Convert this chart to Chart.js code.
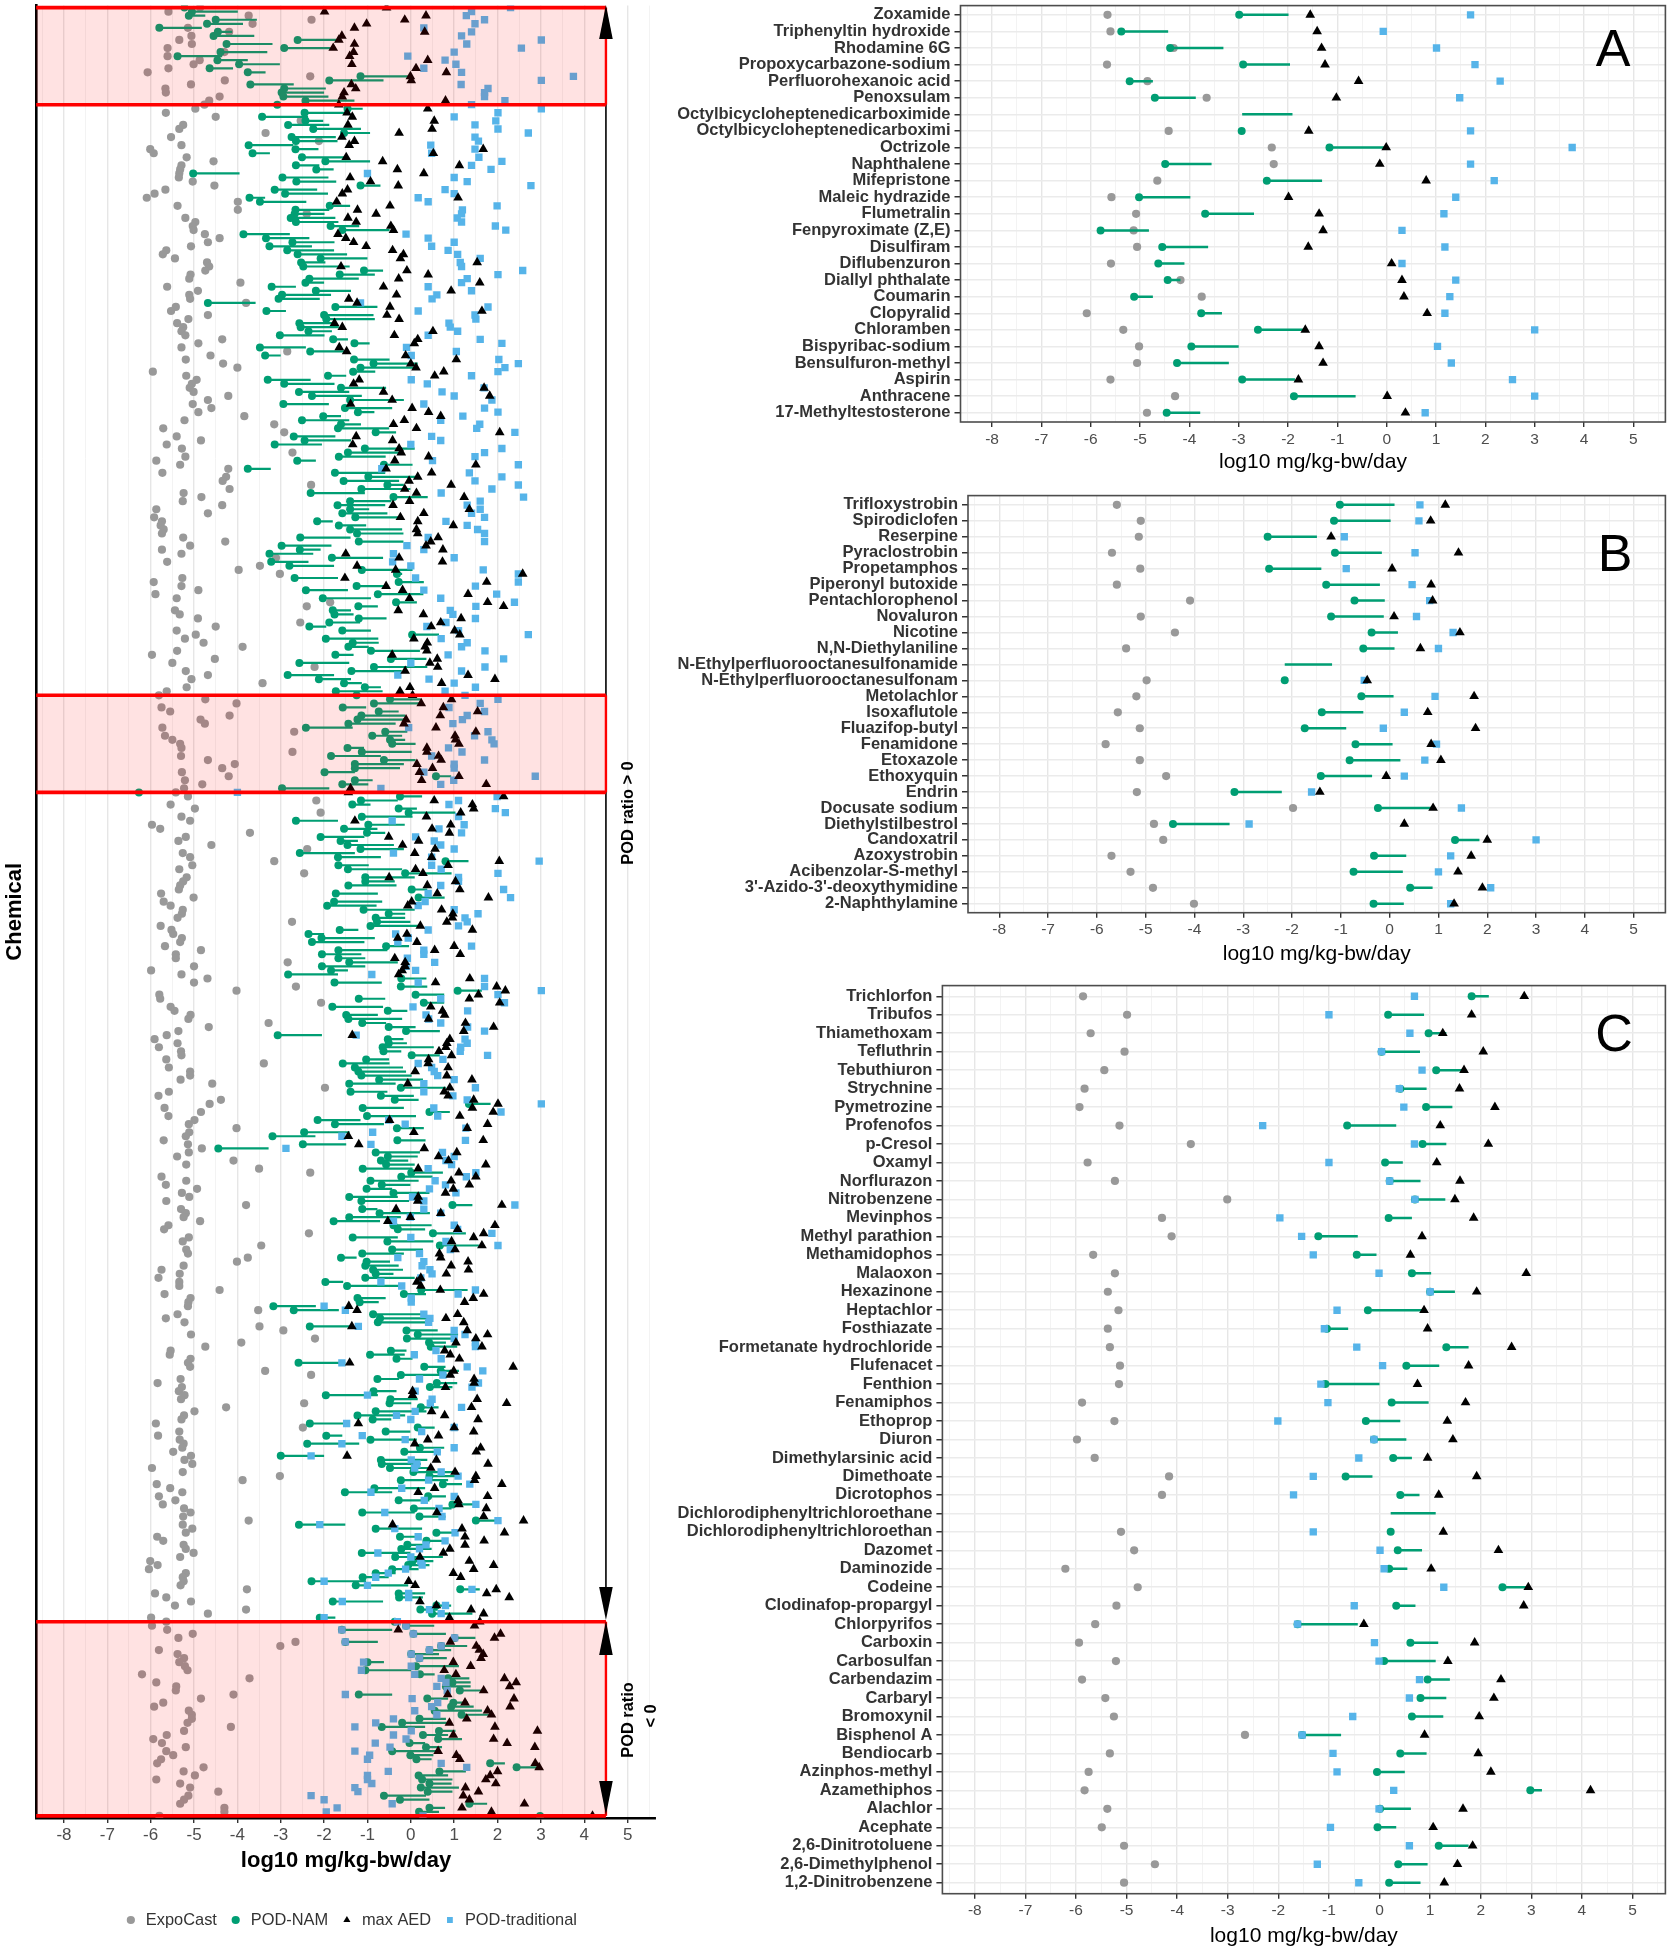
<!DOCTYPE html>
<html>
<head>
<meta charset="utf-8">
<title>POD ratio chart</title>
<script src="https://cdn.jsdelivr.net/npm/chart.js@4"></script>
<style>
  body { margin: 0; background: #fff; width: 1671px; height: 1950px; position: relative; overflow: hidden; }
  canvas { position: absolute; }
</style>
</head>
<body>
<canvas id="chartAll" width="701" height="1950" style="left:0;top:0"></canvas>
<canvas id="chartA" width="1011" height="490" style="left:660px;top:0"></canvas>
<canvas id="chartB" width="1011" height="490" style="left:660px;top:490px"></canvas>
<canvas id="chartC" width="1011" height="970" style="left:660px;top:980px"></canvas>
<script>
// x axis, same on all four panels
const xTicks = [-8.5,-8,-7.5,-7,-6.5,-6,-5.5,-5,-4.5,-4,-3.5,-3,-2.5,-2,-1.5,-1,-0.5,0,0.5,1,1.5,2,2.5,3,3.5,4,4.5,5,5.5];
const legendLabels = ['ExpoCast', 'POD-NAM', 'max AED', 'POD-traditional'];
const axisTitle = 'log10 mg/kg-bw/day';

// left panel, one entry per chemical, top row first
const expoCast = [
-4.86,-5.59,-3.74,-2.29,-3.65,-5.14,-4.19,-5.06,-5.34,-5.05,
-5.61,-4.30,-5.61,-4.87,-5.01,-5.59,-6.07,-2.32,-4.29,-5.07,
-5.66,-5.65,-4.41,-4.65,-4.76,-4.97,-5.65,-4.50,-2.54,-5.25,
-5.34,-3.35,-5.53,-2.12,-5.29,-6.01,-5.93,-5.17,-4.55,-5.29,
-5.32,-5.34,-5.35,-5.03,-4.53,-5.66,-5.91,-6.09,-3.99,-5.38,
-3.99,-2.40,-5.20,-4.97,-5.03,-5.01,-4.75,-4.41,-4.68,-5.07,
-5.64,-5.72,-5.44,-4.70,-4.65,-4.74,-5.08,-5.11,-3.93,-5.62,
-4.91,-5.11,-5.09,-3.80,-5.42,-5.53,-4.68,-5.13,-5.39,-5.25,
-5.29,-5.20,-4.35,-4.90,-5.29,-2.85,-4.62,-5.19,-4.33,-4.00,
-5.95,-5.18,-4.94,-5.05,-5.10,-5.01,-4.21,-4.68,-5.03,-4.60,
-4.90,-3.84,-5.22,-3.15,-5.71,-2.92,-5.40,-4.84,-5.63,-5.28,
-2.73,-5.20,-5.87,-5.32,-4.21,-5.73,-4.26,-4.34,-2.30,-4.18,
-5.24,-4.83,-5.26,
-4.35,-5.87,-4.68,-5.92,-5.74,-5.77,-5.70,-5.74,-5.25,-4.28,
-5.09,-5.74,-5.29,-3.11,-5.62,-3.48,-3.97,-3.02,-5.27,-5.93,
-5.29,-4.90,-5.89,-5.40,-1.86,-2.40,-5.44,-5.33,-4.91,-2.55,
-4.50,-5.40,-4.96,-5.21,-4.78,-3.88,-5.39,-5.97,-4.52,-5.50,
-2.22,-5.19,-4.68,-5.06,-3.42,-5.17,-5.63,-5.81,-4.74,-4.02,
-5.75,-5.55,-4.18,-4.85,-4.75,-5.73,-2.69,-5.67,-5.50,-5.32,
-5.29,-2.73,-5.30,-4.68,-4.06,-4.35,-5.28,-4.20,-5.21,-4.81,
-5.23,-5.42,-5.14,-2.18,-5.54,-4.98,-2.08,-5.29,-5.09,-5.97,
-5.78,-3.71,-5.19,-5.36,-4.60,-2.39,-5.26,-5.09,-3.15,-5.04,
-5.34,-2.46,-5.17,-5.25,-5.32,-5.35,-5.76,-5.01,-5.70,-5.54,
-5.26,-5.28,-5.38,-2.74,-5.77,-5.52,-5.48,-5.28,-5.32,-5.67,
-4.84,-5.42,-5.42,-2.84,-5.00,-5.99,-5.29,-4.69,-5.00,-2.65,
-4.02,-5.80,-5.78,
-2.07,-5.54,-5.45,-5.08,-5.13,-3.28,-4.66,-5.36,-5.63,-5.91,
-5.38,-5.81,-5.30,-5.29,-5.64,-3.39,-5.58,-5.09,-5.09,-5.31,
-4.58,-1.98,-5.58,-5.82,-4.38,-4.64,-5.68,-4.84,-5.59,-4.99,
-5.12,-4.02,-5.11,-5.19,-5.70,-5.14,-4.82,-5.12,-5.39,-4.09,
-5.18,-3.50,-2.32,-5.75,-5.18,-5.65,-4.93,-5.28,-5.11,-5.64,
-3.80,-5.30,-5.19,-5.24,-4.86,-5.59,-5.69,-2.35,-5.12,-5.26,
-3.45,-5.18,-5.14,-3.76,-4.01,-5.24,-5.75,-5.33,-5.82,-5.34,
-5.34,-4.41,-5.68,-5.08,-5.13,-5.14,-3.52,-5.38,-5.65,-5.22,
-3.49,-2.94,-5.07,-2.21,-3.91,-4.74,-5.54,-5.56,-5.08,-5.14,
-5.09,-3.36,-2.30,-5.31,-5.84,-5.28,-5.35,-5.22,-5.30,-2.46,
-4.26,-4.99,-5.23,-5.29,-5.88,-2.49,-5.34,-5.83,-5.33,-5.24,
-5.27,-5.48,-5.07,-5.22,-5.04,-5.97,-5.26,-3.02,-3.88,-5.86,
-5.55,-5.27,-5.81,-5.43,
-5.72,-5.23,-5.08,-5.25,-3.74,-5.26,-5.04,-5.19,-5.85,-5.71,
-5.24,-5.19,-5.01,-5.32,-6.01,-5.84,-6.04,-5.19,-5.26,-5.24,
-5.31,-3.78,-5.90,-5.64,-5.07,-5.44,-3.80,-4.68,-5.99,-5.64,
-5.97,-5.62,-5.03,-5.36,-2.66,-3.01,-5.81,-5.38,-5.23,-5.34,
-5.21,-5.15,-6.20,-3.72,-5.87,-5.41,-5.42,-4.09,-4.84,-5.71,
-5.92,-5.12,-5.05,-5.05,-5.15,-4.15,-5.23,-5.63,-5.94,-5.74,
-5.19,-5.64,-5.48,-5.76,-5.85,-4.78,-5.24,-4.98,-5.87,-5.32,
-5.09,-4.44,-5.13,-5.23,-5.32,-4.30,-4.30,-5.80
];
const podNam = [
-5.22,-5.05,-5.12,-4.50,-4.70,-5.80,-4.45,-4.55,-2.61,-4.25,
-2.92,-4.39,-5.38,-4.46,-3.96,-4.64,-3.76,-1.16,-1.88,-3.70,
-2.92,-2.98,-2.94,-2.43,-3.08,-1.46,-2.45,-3.43,-2.43,-2.83,
-2.25,-1.54,-2.75,-2.65,-3.74,-2.66,-3.65,-2.51,-1.97,-2.65,
-2.18,-5.02,-2.96,-2.64,-1.16,-3.14,-2.90,-3.72,-3.48,-1.87,
-2.66,-2.68,-2.77,-2.65,-1.85,-1.58,-3.86,-3.34,-2.73,-3.26,
-2.85,-2.61,-2.08,-2.53,-2.48,-1.08,-1.64,-2.34,-2.43,-3.21,
-2.19,-2.97,-3.05,-4.68,-1.74,-3.33,-2.00,-1.95,-2.57,-2.54,
-2.36,-3.02,-1.79,-1.30,-3.48,-2.32,-3.36,-1.31,-0.86,-1.16,
-1.33,-1.91,-3.30,-2.92,-1.61,-2.58,-2.28,-1.40,-2.94,-1.52,
-1.22,-2.02,-2.51,-1.61,-1.68,-0.81,-2.70,-2.45,-3.14,-1.06,
-1.45,-1.66,-2.62,-0.62,-3.76,-1.75,-0.98,-1.55,-0.54,-1.14,
-2.31,-0.40,-1.40,
-1.69,-1.40,-1.58,-1.28,-2.16,-1.66,-1.40,-1.24,-2.55,-1.20,
-2.98,-2.56,-3.26,-1.82,-3.22,-2.80,-1.13,-0.32,-2.68,-0.28,
-1.25,-2.42,-0.76,-2.03,-0.34,-1.21,-1.80,-1.76,-1.20,-1.88,
-2.34,-1.58,0.03,-1.96,-1.34,-1.44,-0.92,-1.74,-0.46,-2.57,
-0.85,-1.37,-2.84,-2.12,-1.54,-1.06,-1.73,-1.25,-0.48,-0.85,
-1.57,-0.74,-1.14,-1.23,-1.44,-2.42,-0.59,-0.89,-0.48,-0.43,
-1.46,-1.13,-1.84,-0.62,-1.29,-1.29,-1.99,0.58,-1.29,-1.58,
-2.97,-6.27,-0.25,-1.15,-1.35,-0.28,-0.05,-1.13,-2.65,-0.98,
-1.54,-1.01,-2.08,-1.62,-1.46,-1.16,-2.56,-1.68,0.80,-1.67,
-1.45,-0.13,-1.05,-1.05,-1.44,0.02,-1.73,0.18,-1.77,-1.93,
-1.09,-0.51,-0.81,-0.78,-0.93,-1.64,-2.36,-2.06,-2.28,-0.57,
-1.67,-2.05,-1.67,-1.42,-2.05,-1.84,-2.83,-0.22,-1.76,-0.23,
1.08,0.11,-1.20,
0.30,-1.81,-0.53,-1.49,-1.44,-1.12,-0.51,-0.11,-3.07,-0.53,
-0.51,-0.65,-0.63,0.02,-1.03,-1.57,-1.29,-1.21,-1.14,-0.73,
-1.42,-0.23,-1.39,-0.69,-0.37,1.34,-1.11,0.43,-1.01,-2.15,
-1.75,-0.32,-2.46,-3.19,-0.31,-2.49,-4.44,-0.81,-0.53,-0.69,
-0.57,-1.11,0.01,-0.22,-0.93,-0.67,-1.02,-0.40,-1.42,-1.14,
0.96,-1.12,-0.72,-1.42,-1.78,-0.40,-0.30,0.51,-1.34,-0.54,
0.67,-0.43,-1.12,-1.61,-1.02,-1.05,-0.87,-0.81,-1.05,-1.97,
-1.47,0.24,-0.16,-1.23,-1.18,-3.17,-2.70,-0.87,-0.71,-0.76,
-2.33,-0.10,0.16,-0.09,0.42,0.46,-0.46,-0.94,-0.33,-2.59,
0.31,0.69,-0.23,-0.77,0.60,0.44,-0.86,-1.96,-0.47,-0.49,
0.23,-0.81,-1.23,-0.88,-2.33,0.16,-0.58,-1.95,-0.93,-2.39,
0.21,-0.15,-3.00,-0.69,-0.67,-0.48,0.06,0.43,-0.23,0.74,
-0.84,-1.52,0.40,-0.28,
0.96,0.07,-1.12,0.20,1.50,-2.58,-0.81,0.59,-0.25,0.36,
-0.08,-0.22,-1.13,-0.36,0.04,-0.06,-0.43,-0.81,-1.11,-2.29,
-1.27,1.14,-0.28,-0.27,-1.80,0.59,0.22,0.49,-2.10,-0.37,
-0.11,-1.59,0.06,1.01,-1.51,0.70,0.43,0.01,0.20,-1.00,
0.12,-1.05,0.21,0.86,0.96,0.81,1.13,-1.20,0.38,0.98,
0.93,0.55,1.17,0.20,-0.20,-0.67,0.65,0.28,0.63,-0.03,
0.35,-0.43,-0.01,0.13,1.83,2.44,0.66,0.18,0.26,0.43,
0.23,0.39,-0.62,-0.25,1.35,0.43,0.19,2.98
];
const podNamHi = [
-4.33,-3.99,-4.74,-3.55,-3.87,-4.82,-4.12,-3.61,-1.63,-3.19,
-1.85,-3.31,-4.35,-3.76,-3.02,-4.10,-3.35,-0.01,-0.63,-2.70,
-1.96,-2.00,-1.90,-1.30,-2.10,-1.11,-1.45,-2.37,-2.02,-1.88,
-1.15,-0.94,-1.73,-1.69,-2.71,-2.13,-3.25,-1.49,-0.94,-2.11,
-1.78,-3.95,-1.90,-1.72,-0.70,-2.16,-1.91,-3.36,-2.41,-1.40,
-1.88,-1.99,-1.74,-1.67,-1.19,-0.49,-2.79,-2.34,-1.76,-2.28,
-1.77,-1.47,-1.00,-1.97,-1.41,-0.64,-0.83,-1.20,-2.00,-2.65,
-1.38,-1.84,-2.10,-3.58,-0.77,-2.88,-0.86,-0.83,-1.71,-1.66,
-1.82,-1.99,-1.45,-0.95,-2.42,-1.46,-3.00,-0.49,0.16,0.14,
-0.82,-1.49,-2.31,-1.76,-0.57,-1.42,-1.13,-0.16,-1.89,-0.43,
-0.84,-1.61,-1.42,-1.15,-0.50,-0.34,-1.74,-1.38,-2.05,0.09,
-0.27,-0.58,-2.19,0.04,-3.23,-0.59,0.14,-0.27,-0.16,-0.01,
-1.06,0.39,-0.45,
-0.59,-0.96,-0.54,-0.20,-1.80,-1.03,-0.20,-0.17,-1.39,-0.17,
-1.83,-2.08,-2.25,-0.64,-2.36,-1.77,0.04,-0.20,-1.68,0.30,
-0.54,-1.45,0.29,-0.92,0.14,-0.76,-1.38,-1.32,-0.56,-1.17,
-1.95,-0.92,0.65,-0.75,-0.74,-0.97,0.21,-1.32,0.36,-1.42,
0.38,-0.21,-1.77,-1.38,-1.13,-0.69,-0.65,-0.01,0.23,0.26,
-1.03,-0.28,-0.13,-0.16,-0.35,-1.34,-0.08,-0.20,-0.13,0.11,
-1.08,0.02,-0.69,0.11,-0.16,-0.25,-1.29,0.93,-0.88,-0.98,
-1.88,-5.20,0.26,-0.30,-0.93,0.14,1.03,0.04,-1.68,-0.14,
-0.77,-0.59,-1.07,-1.22,-0.39,-0.16,-1.29,-0.69,1.33,-0.97,
-0.20,0.94,0.09,-0.37,-0.33,0.38,-0.76,0.78,-0.66,-0.79,
0.09,-0.13,-0.13,-0.01,0.23,-1.21,-2.00,-0.83,-1.07,-0.04,
-0.54,-1.14,-1.05,-0.30,-1.05,-1.45,-1.68,0.36,-0.67,0.38,
1.64,0.77,-0.59,
0.77,-0.64,-0.08,-0.76,-0.20,-0.57,0.11,0.67,-2.05,-0.17,
-0.09,0.53,-0.22,0.67,-0.50,-0.49,-0.18,-0.11,0.02,0.28,
-0.35,0.81,-0.54,0.07,0.18,1.84,-0.16,0.90,0.12,-1.16,
-0.62,0.30,-1.41,-2.20,0.34,-1.49,-3.28,0.21,0.16,-0.06,
0.09,0.04,0.74,0.50,0.18,-0.01,-0.43,0.43,-0.30,-0.04,
1.42,-0.77,0.44,-0.23,-0.71,0.48,0.33,1.27,-0.30,0.52,
1.57,0.28,-0.16,-1.25,-0.48,-0.28,-0.18,-0.40,0.09,-1.56,
-0.25,1.31,0.35,-0.58,-0.74,-2.19,-1.66,0.30,0.38,0.41,
-1.32,0.62,1.09,1.00,0.81,1.07,-0.10,-0.14,0.04,-1.51,
0.80,1.11,0.83,-0.27,1.07,0.96,-0.33,-0.76,0.16,0.01,
0.64,0.36,-0.13,-0.45,-1.46,0.55,-0.01,-1.58,0.14,-1.19,
0.77,0.69,-2.00,0.38,0.23,0.43,1.01,1.15,0.86,1.18,
0.33,-0.43,0.81,0.43,
1.50,0.94,0.09,0.80,2.03,-1.51,0.26,1.06,0.23,0.83,
0.38,0.48,-0.01,0.74,0.52,0.43,0.18,-0.35,-0.51,-1.03,
-0.06,1.59,0.33,0.28,-0.64,0.93,0.62,1.42,-1.74,0.54,
0.54,-0.43,0.81,1.49,-0.76,1.30,0.93,0.65,0.83,-0.62,
1.11,0.01,0.55,1.35,1.38,1.38,1.71,-0.43,0.86,1.32,
1.45,1.64,1.83,0.81,0.86,0.33,1.03,0.86,1.18,0.33,
0.72,0.62,0.52,0.48,2.17,2.95,1.27,0.86,0.96,0.94,
1.11,0.96,0.35,0.43,1.76,0.79,0.65,3.14
];
const maxAed = [
-0.56,-1.99,0.35,-0.14,-1.02,-1.30,0.32,-1.59,-1.66,-1.30,
-1.79,-1.32,-1.41,0.39,-1.36,0.12,0.82,-0.01,0.01,-1.37,
-1.27,-1.54,-1.58,0.80,-1.66,0.39,-1.47,-1.35,0.54,-1.45,
0.49,-0.27,-1.59,-1.30,-1.42,1.67,0.52,-1.49,-0.65,1.12,
-0.31,0.30,-1.40,-0.93,-0.29,-1.46,-1.58,1.09,-1.71,-0.48,
-1.23,-0.80,-1.45,-1.26,-0.46,-0.40,-1.68,-1.50,-1.32,-1.03,
-0.42,-0.17,-0.24,1.53,-1.61,-0.09,0.40,-0.28,1.59,-0.63,
0.93,-0.33,-1.43,-1.24,-0.48,1.64,-0.55,-0.27,-1.76,-1.58,
0.51,-0.38,0.16,0.08,-1.65,-1.48,-0.12,1.05,0.00,0.12,
0.76,0.55,-1.19,-1.32,1.69,-0.63,1.82,-0.43,-1.39,0.03,
0.41,0.69,-0.15,-0.40,0.13,2.05,-1.26,-0.42,-1.34,-0.27,
-0.22,0.41,-0.37,1.50,-0.57,0.48,0.16,-0.04,0.93,-0.14,
0.13,1.23,-0.03,
-0.41,1.35,0.30,-0.24,0.16,0.98,0.13,0.16,0.63,0.46,
0.35,0.74,-1.50,-0.27,0.73,-1.24,-0.35,2.58,-1.52,1.75,
-0.57,-0.19,1.32,-0.03,1.77,2.14,-0.29,0.29,1.16,0.69,
0.47,1.01,1.13,0.07,0.38,0.33,0.37,-0.43,0.61,0.44,
0.62,-0.13,1.32,1.94,0.71,-0.02,-0.25,0.04,0.94,0.24,
0.75,1.54,0.68,-0.11,-0.16,0.58,1.50,1.02,1.03,1.11,
0.37,0.37,0.64,0.70,0.14,0.50,0.20,1.11,0.25,1.74,
-1.39,-1.44,2.14,0.54,1.42,1.45,1.15,0.36,-1.29,0.92,
0.49,0.89,-0.51,0.18,-0.19,0.56,0.09,0.48,2.04,0.86,
0.11,0.28,-0.50,1.03,0.38,1.13,0.61,1.79,0.02,-0.07,
0.71,0.97,0.96,0.83,0.22,1.42,-0.09,-0.30,0.14,1.00,
0.55,1.14,-0.37,-0.13,-0.13,-0.20,-0.28,1.36,0.57,1.98,
2.18,1.56,1.35,
2.05,0.46,0.73,0.78,0.41,1.26,1.91,1.22,-1.35,0.90,
0.83,0.81,0.65,0.94,0.41,0.40,0.86,0.10,0.83,1.41,
-0.07,0.90,0.77,0.86,1.45,2.01,1.42,1.90,1.13,-0.49,
1.77,1.30,0.07,-1.44,1.67,-1.20,0.31,1.06,0.64,0.87,
1.73,0.17,1.11,1.50,0.93,1.35,0.98,0.80,0.17,0.16,
2.10,-0.34,0.69,-0.01,-0.53,1.94,1.08,1.68,1.45,0.94,
1.64,1.02,0.66,0.69,1.32,0.93,1.33,0.82,0.23,0.14,
0.23,0.68,1.68,1.44,1.24,-1.43,-1.24,1.08,0.81,1.22,
-1.36,1.30,1.77,1.50,1.04,1.64,0.78,0.91,1.12,-1.41,
2.36,0.99,0.91,1.46,1.46,0.80,0.04,0.04,1.53,2.21,
1.40,0.48,0.78,1.55,-1.21,1.00,1.45,0.64,0.39,0.09,
1.61,1.51,-1.47,0.59,1.78,0.46,1.02,1.50,1.47,2.10,
0.55,0.17,1.77,1.09,
1.11,1.74,0.60,1.68,2.60,-0.42,1.18,2.16,1.25,1.69,
1.25,0.90,0.75,0.21,1.35,1.91,1.45,0.98,1.15,-0.05,
0.10,1.97,1.75,2.27,0.21,0.59,1.39,1.68,0.89,1.59,
1.47,-0.29,2.07,1.93,0.91,1.51,1.58,1.67,1.62,0.98,
1.38,0.77,1.04,2.16,2.43,2.28,1.68,0.85,2.38,1.25,
2.29,1.77,1.86,1.29,0.89,1.94,2.92,0.98,1.91,2.22,
2.86,0.63,1.05,1.13,2.87,2.96,2.00,1.83,1.73,1.96,
1.26,1.56,1.21,1.35,2.62,1.18,1.86,4.19
];
const podTrad = [
2.30,1.40,1.28,1.70,1.48,0.30,1.40,1.17,3.01,1.29,
2.55,1.00,-0.07,0.79,1.04,0.30,1.17,3.75,3.01,1.16,
1.78,1.70,1.70,2.17,1.40,3.01,2.01,1.00,1.96,1.48,
2.01,2.71,1.48,1.56,0.46,1.48,0.48,1.57,2.10,1.40,
1.85,-1.00,1.00,1.30,2.77,0.79,1.00,0.17,0.40,1.99,
1.19,1.17,1.07,1.17,1.95,2.19,-0.11,0.40,1.00,0.48,
0.86,1.08,1.60,1.14,1.17,2.58,2.01,1.30,1.17,0.40,
1.40,0.60,0.49,-1.16,1.78,0.17,1.48,1.50,0.88,0.91,
1.08,0.40,1.60,2.10,-0.10,1.05,0.01,2.03,2.48,2.17,
2.01,1.40,0.01,0.38,1.69,0.72,1.00,1.87,0.30,1.70,
2.01,1.20,0.69,1.59,1.52,2.40,0.48,0.69,0.00,2.10,
1.70,1.48,0.50,2.48,-0.67,1.35,2.10,1.48,2.48,1.87,
0.70,2.60,1.60,
1.30,1.60,1.40,1.70,0.81,1.30,1.54,1.70,0.40,1.70,
-0.09,0.30,-0.40,1.00,-0.42,0.00,1.67,2.48,0.11,2.48,
1.49,0.30,1.98,0.69,2.39,1.50,0.91,0.97,1.49,0.81,
0.37,1.10,2.71,0.70,1.30,1.17,1.71,0.86,2.14,0.00,
1.71,1.17,-0.30,0.42,1.00,1.49,0.79,1.25,2.01,1.60,
0.88,1.70,1.30,1.19,0.97,-0.05,1.78,1.47,1.87,1.92,
0.87,1.18,0.48,1.70,1.00,1.00,0.30,2.87,0.99,0.69,
-0.69,-4.00,1.99,1.10,0.88,1.95,2.18,1.10,-0.43,1.23,
0.65,1.17,0.11,0.54,0.69,1.00,-0.40,0.48,2.96,0.48,
0.70,2.01,1.10,1.10,0.69,2.14,0.40,2.30,0.33,0.17,
1.00,1.55,1.25,1.30,1.10,0.40,-0.35,-0.06,-0.30,1.40,
0.30,0.30,-0.08,0.55,-0.11,0.11,-0.90,1.70,0.17,1.70,
3.01,2.01,0.69,
2.16,0.05,1.31,0.35,0.41,0.69,1.31,1.70,-1.26,1.25,
1.30,1.15,1.14,1.77,0.74,0.17,0.48,0.54,0.62,1.00,
0.30,1.49,0.30,0.97,1.30,3.01,0.53,2.08,0.62,-0.51,
-0.13,1.27,-0.88,-1.59,1.26,-0.92,-2.88,0.73,1.00,0.81,
0.94,0.40,1.50,1.28,0.56,0.80,0.43,1.04,0.04,0.30,
2.40,0.30,0.69,-0.01,-0.40,1.00,1.08,1.87,0.00,0.81,
2.01,0.91,0.20,-0.30,0.30,0.26,0.44,0.49,0.23,-0.69,
-0.21,1.49,1.09,0.01,0.01,-2.00,-1.51,0.30,0.44,0.41,
-1.21,1.00,1.25,1.00,1.49,1.49,0.58,0.08,0.70,-1.59,
1.30,1.66,0.74,0.20,1.56,1.41,0.10,-1.00,0.49,0.45,
1.17,0.10,-0.33,0.00,-1.48,1.00,0.25,-1.12,-0.13,-1.59,
1.00,0.61,-2.30,0.01,0.14,0.09,0.70,1.09,0.41,1.36,
-0.21,-0.92,1.00,0.31,
1.50,0.65,-0.60,0.72,2.01,-2.10,-0.37,1.02,0.17,0.79,
0.35,0.20,-0.76,0.00,0.23,0.26,-0.12,-0.52,-0.81,-2.00,
-1.00,1.41,-0.05,-0.05,-1.58,0.80,0.43,0.70,-2.00,-0.31,
-0.11,-1.59,0.06,1.01,-1.51,0.70,0.43,0.01,0.20,-1.09,
0.01,-1.14,0.09,0.70,0.81,0.60,0.84,-1.51,0.03,0.62,
0.48,0.09,0.60,-0.40,-0.81,-1.29,0.01,-0.40,-0.11,-0.82,
-0.48,-1.29,-0.95,-1.00,0.70,1.29,-0.52,-1.00,-1.00,-0.90,
-1.29,-1.22,-2.30,-2.00,-0.43,-1.70,-1.95,0.28
];
// boxes highlighted in the left panel, in rows
const highlightRows = [[0, 24], [170, 194], [399, 447]];

// panel A
const aNames = ['Zoxamide','Triphenyltin hydroxide','Rhodamine 6G','Propoxycarbazone-sodium','Perfluorohexanoic acid','Penoxsulam','Octylbicycloheptenedicarboximide','Octylbicycloheptenedicarboximi','Octrizole','Naphthalene','Mifepristone','Maleic hydrazide','Flumetralin','Fenpyroximate (Z,E)','Disulfiram','Diflubenzuron','Diallyl phthalate','Coumarin','Clopyralid','Chloramben','Bispyribac-sodium','Bensulfuron-methyl','Aspirin','Anthracene','17-Methyltestosterone'];
const aExpo = [-5.66,-5.60,-4.32,-5.67,-4.85,-3.65,null,-4.42,-2.33,-2.29,-4.65,-5.58,-5.08,-5.13,-5.06,-5.59,-4.18,-3.75,-6.08,-5.34,-5.02,-5.06,-5.60,-4.29,-4.86];
const aNam = [-2.99,-5.38,-4.39,-2.91,-5.21,-4.70,null,-2.94,-1.16,-4.49,-2.43,-5.02,-3.68,-5.80,-4.55,-4.63,-4.44,-5.12,-3.76,-2.61,-3.96,-4.25,-2.93,-1.88,-4.46];
const aLo = [-2.99,-5.38,-4.39,-2.91,-5.21,-4.70,-2.93,null,-1.16,-4.49,-2.43,-5.02,-3.68,-5.80,-4.55,-4.63,-4.44,-5.12,-3.76,-2.61,-3.96,-4.25,-2.93,-1.88,-4.46];
const aHi = [-1.99,-4.43,-3.31,-1.96,-4.74,-3.87,-1.91,null,-0.03,-3.55,-1.31,-3.98,-2.69,-4.82,-3.62,-4.10,-4.18,-4.74,-3.34,-1.62,-3.00,-3.20,-1.86,-0.63,-3.78];
const aAed = [-1.55,-1.41,-1.32,-1.25,-0.57,-1.02,null,-1.58,-0.01,-0.14,0.80,-1.99,-1.37,-1.29,-1.59,0.10,0.31,0.35,0.82,-1.65,-1.37,-1.29,-1.79,0.01,0.38];
const aTrad = [1.70,-0.07,1.01,1.79,2.30,1.48,null,1.70,3.76,1.70,2.18,1.40,1.16,0.31,1.18,0.31,1.40,1.28,1.18,3.00,1.03,1.31,2.55,3.00,0.78];

// panel B
const bNames = ['Trifloxystrobin','Spirodiclofen','Reserpine','Pyraclostrobin','Propetamphos','Piperonyl butoxide','Pentachlorophenol','Novaluron','Nicotine','N,N-Diethylaniline','N-Ethylperfluorooctanesulfonamide','N-Ethylperfluorooctanesulfonam','Metolachlor','Isoxaflutole','Fluazifop-butyl','Fenamidone','Etoxazole','Ethoxyquin','Endrin','Docusate sodium','Diethylstilbestrol','Candoxatril','Azoxystrobin','Acibenzolar-S-methyl',"3'-Azido-3'-deoxythymidine",'2-Naphthylamine'];
const bExpo = [-5.59,-5.10,-5.14,-5.69,-5.11,-5.59,-4.09,-5.10,-4.40,-5.40,null,-4.98,-5.19,-5.57,-5.12,-5.82,-5.12,-4.58,-5.18,-1.98,-4.83,-4.64,-5.70,-5.31,-4.85,-4.01];
const bNam = [-1.02,-1.14,-2.50,-1.12,-2.47,-1.30,-0.72,-1.20,-0.37,-0.54,null,-2.15,-0.58,-1.39,-1.74,-0.70,-0.82,-1.41,-3.18,-0.24,-4.44,1.34,-0.32,-0.74,0.42,-0.33];
const bLo = [-1.02,-1.14,-2.50,-1.12,-2.47,-1.30,-0.72,-1.20,-0.37,-0.54,-2.15,null,-0.58,-1.39,-1.74,-0.70,-0.82,-1.41,-3.18,-0.24,-4.44,1.34,-0.32,-0.74,0.42,-0.33];
const bHi = [0.10,0.02,-1.49,-0.16,-1.40,-0.20,-0.10,-0.12,0.17,0.10,-1.18,null,0.08,-0.54,-0.89,0.06,0.22,-0.36,-2.21,0.85,-3.28,1.84,0.34,0.27,0.88,0.29];
const bAed = [1.14,0.84,-1.20,1.41,0.05,0.85,0.88,0.09,1.44,0.63,null,-0.46,1.73,0.78,1.76,0.85,1.05,-0.07,-1.43,0.89,0.30,2.00,1.67,1.40,1.90,1.32];
const bTrad = [0.62,0.60,-0.93,0.52,-0.89,0.46,0.82,0.55,1.30,1.00,null,-0.52,0.93,0.30,-0.13,0.96,0.72,0.30,-1.60,1.47,-2.88,3.00,1.25,1.00,2.07,1.25];

// panel C
const cNames = ['Trichlorfon','Tribufos','Thiamethoxam','Tefluthrin','Tebuthiuron','Strychnine','Pymetrozine','Profenofos','p-Cresol','Oxamyl','Norflurazon','Nitrobenzene','Mevinphos','Methyl parathion','Methamidophos','Malaoxon','Hexazinone','Heptachlor','Fosthiazate','Formetanate hydrochloride','Flufenacet','Fenthion','Fenamiphos','Ethoprop','Diuron','Dimethylarsinic acid','Dimethoate','Dicrotophos','Dichlorodiphenyltrichloroethane','Dichlorodiphenyltrichloroethan','Dazomet','Daminozide','Codeine','Clodinafop-propargyl','Chlorpyrifos','Carboxin','Carbosulfan','Carbendazim','Carbaryl','Bromoxynil','Bisphenol A','Bendiocarb','Azinphos-methyl','Azamethiphos','Alachlor','Acephate','2,6-Dinitrotoluene','2,6-Dimethylphenol','1,2-Dinitrobenzene'];
const cExpo = [-5.86,-4.99,-5.71,-5.04,-5.44,-5.83,-5.93,-5.14,-3.73,-5.77,-5.23,-3.01,-4.30,-4.11,-5.66,-5.23,-5.37,-5.16,-5.37,-5.33,-5.13,-5.15,-5.88,-5.24,-5.98,-5.63,-4.16,-4.30,null,-5.11,-4.85,-6.21,-4.78,-5.20,-5.62,-5.94,-5.21,-5.88,-5.42,-5.25,-2.66,-5.33,-5.75,-5.83,-5.38,-5.49,-5.05,-4.44,-5.05];
const cNam = [1.82,0.17,0.97,0.04,1.12,0.41,0.92,-0.64,0.85,0.11,0.20,0.70,0.18,-1.21,-0.45,0.64,1.00,-0.23,-1.04,1.32,0.53,-1.07,0.24,-0.27,-0.11,0.27,-0.67,0.41,null,0.22,0.36,0.19,2.43,0.33,-1.62,0.61,0.09,0.95,0.81,0.64,-1.53,0.41,-0.05,2.98,0.01,-0.04,1.17,0.37,0.19];
const cLo = [1.82,0.17,0.97,0.04,1.12,0.41,0.92,-0.64,0.85,0.11,0.20,0.70,0.18,-1.21,-0.45,0.64,1.00,-0.23,-1.04,1.32,0.53,-1.07,0.24,-0.27,-0.11,0.27,-0.67,0.41,0.22,null,0.36,0.19,2.43,0.33,-1.62,0.61,0.09,0.95,0.81,0.64,-1.53,0.41,-0.05,2.98,0.01,-0.04,1.17,0.37,0.19];
const cHi = [2.16,0.88,1.32,0.80,1.69,0.93,1.44,0.33,1.32,0.46,0.81,1.30,0.64,-0.43,-0.06,1.02,1.49,0.85,-0.62,1.76,1.18,0.00,0.97,0.41,0.53,0.64,-0.14,0.79,1.11,null,0.84,0.55,2.94,0.71,-0.43,1.16,1.11,1.39,1.32,1.26,-0.76,0.93,0.50,3.21,0.62,0.33,1.76,0.95,0.81];
const cAed = [2.86,1.82,1.25,2.05,1.67,1.58,2.28,1.20,2.15,1.13,1.59,1.49,1.86,0.84,0.61,2.90,1.92,0.88,0.95,2.61,1.76,0.75,1.70,1.34,1.45,0.95,1.92,1.17,null,1.26,2.35,1.02,2.94,2.85,-0.31,1.88,1.35,2.40,2.26,1.97,0.89,1.95,2.20,4.17,1.65,1.06,1.84,1.54,1.28];
const cTrad = [0.69,-1.00,0.60,0.04,0.84,0.39,0.48,-2.31,0.69,-1.00,0.20,0.70,-1.97,-1.54,-1.31,-0.01,1.00,-0.84,-1.09,-0.45,0.06,-1.16,-1.02,-2.01,-0.11,-0.41,-1.31,-1.70,null,-1.31,0.01,0.09,1.27,-0.50,-1.62,-0.10,-0.01,0.79,0.59,-0.53,-1.53,-0.92,-0.84,0.28,-0.01,-0.97,0.59,-1.23,-0.41];

Chart.defaults.font.family = "'Liberation Sans', Arial, sans-serif";
Chart.defaults.animation = false;

const GREEN = '#009e73', BLUE = '#56b4e9', GREY = '#999999';

function toPoints(vals) {
    var pts = [];
    vals.forEach(function (v, i) { if (v !== null) pts.push({ x: v, y: i }); });
    return pts;
}

function toSegments(lo, hi) {
    var pts = [];
    lo.forEach(function (v, i) {
        if (v !== null && hi[i] !== null) {
            pts.push({ x: v, y: i }, { x: hi[i], y: i }, { x: null, y: null });
        }
    });
    return pts;
}

// first dataset is drawn on top
function buildDatasets(s) {
    function marks(label, vals, style, color, radius) {
        return { label: label, data: toPoints(vals), pointStyle: style, pointRadius: radius,
            backgroundColor: color, borderColor: color, pointBackgroundColor: color,
            pointBorderWidth: 0, borderWidth: 0, showLine: false };
    }
    return [
        marks('max AED', s.aed, 'triangle', '#000', 5.6),
        marks('POD-traditional', s.trad, 'rect', BLUE, 5.2),
        marks('POD-NAM', s.nam, 'circle', GREEN, 4),
        { label: '', data: toSegments(s.lo, s.hi), showLine: true, spanGaps: false, pointRadius: 0,
            borderColor: GREEN, backgroundColor: GREEN, borderWidth: s.lineWidth },
        marks('ExpoCast', s.expo, 'circle', GREY, 4.1)
    ];
}

function xScale(titleFont, titleBottom, borderColor, borderWidth, height, rightInset, tickSize, tickPad) {
    return {
        type: 'linear', min: -8.64, max: 5.65,
        afterBuildTicks: function (scale) { scale.ticks = xTicks.map(function (v) { return { value: v }; }); },
        afterFit: function (scale) {
            scale.height = height;
            scale.paddingLeft = 0;
            scale.paddingRight = rightInset;
        },
        ticks: {
            autoSkip: false, maxRotation: 0, color: '#4d4d4d', padding: tickPad, font: { size: tickSize },
            callback: function (v) { return Number.isInteger(v) ? String(v) : ''; }
        },
        grid: {
            tickLength: 5,
            color: function (ctx) { return ctx.tick && Number.isInteger(ctx.tick.value) ? '#e6e6e6' : '#f2f2f2'; },
            lineWidth: function (ctx) { return ctx.tick && Number.isInteger(ctx.tick.value) ? 1.4 : 0.9; },
            tickColor: function (ctx) { return ctx.tick && Number.isInteger(ctx.tick.value) ? '#333' : 'rgba(0,0,0,0)'; }
        },
        border: { display: borderWidth > 0, color: borderColor, width: borderWidth },
        title: { display: true, text: axisTitle, color: '#000', font: titleFont, padding: { top: 0, bottom: titleBottom } }
    };
}

// right hand panels, rows and axis positions in canvas pixels
function smallPanel(id, names, s, box, letter) {
    var step = (box.lastRow - box.firstRow) / (names.length - 1);
    new Chart(document.getElementById(id), {
        type: 'scatter',
        data: { datasets: buildDatasets(s) },
        options: {
            responsive: false,
            layout: { padding: { top: box.top, right: box.width - box.right, left: 0, bottom: box.height - box.axisBottom } },
            plugins: { legend: { display: false }, tooltip: { enabled: false } },
            scales: {
                x: xScale({ size: 21 }, 0, '#333', 0, box.axisBottom - box.bottom, 0, 15.5, 3),
                y: {
                    type: 'linear', reverse: true,
                    min: -(box.firstRow - box.top) / step,
                    max: names.length - 1 + (box.bottom - box.lastRow) / step,
                    afterBuildTicks: function (scale) { scale.ticks = names.map(function (n, i) { return { value: i }; }); },
                    afterFit: function (scale) {
                        scale.width = box.left;
                        scale.paddingTop = 0;
                        scale.paddingBottom = 0;
                    },
                    ticks: {
                        autoSkip: false, color: '#333', padding: 4, font: { size: 16.5, weight: 'bold' },
                        callback: function (v) { return names[v]; }
                    },
                    grid: { tickLength: 6, color: '#ebebeb', lineWidth: 1.5, tickColor: '#333' },
                    border: { display: false }
                }
            }
        },
        plugins: [{
            id: 'panelFrame',
            afterDraw: function (chart) {
                var c = chart.ctx, a = chart.chartArea;
                c.save();
                c.strokeStyle = '#4d4d4d';
                c.lineWidth = 1.6;
                c.strokeRect(a.left, a.top, a.right - a.left, a.bottom - a.top);
                c.fillStyle = '#000';
                c.font = "52px 'Liberation Sans'";
                c.textAlign = 'center';
                c.textBaseline = 'middle';
                c.fillText(letter.text, letter.x, letter.y);
                c.restore();
            }
        }]
    });
}

smallPanel('chartA', aNames, { expo: aExpo, nam: aNam, lo: aLo, hi: aHi, aed: aAed, trad: aTrad, lineWidth: 2.5 },
    { left: 300.5, right: 1006, top: 4, bottom: 422, firstRow: 13.3, lastRow: 412.7, width: 1011, height: 490, axisBottom: 475 },
    { text: 'A', x: 953, y: 52 });
smallPanel('chartB', bNames, { expo: bExpo, nam: bNam, lo: bLo, hi: bHi, aed: bAed, trad: bTrad, lineWidth: 2.5 },
    { left: 308, right: 1006, top: 4, bottom: 422.7, firstRow: 13.3, lastRow: 413.7, width: 1011, height: 490, axisBottom: 477 },
    { text: 'B', x: 955, y: 67 });
smallPanel('chartC', cNames, { expo: cExpo, nam: cNam, lo: cLo, hi: cHi, aed: cAed, trad: cTrad, lineWidth: 2.5 },
    { left: 282.4, right: 1006, top: 5, bottom: 913.7, firstRow: 15.7, lastRow: 902.7, width: 1011, height: 970, axisBottom: 968.5 },
    { text: 'C', x: 954, y: 57 });

// left panel
var rowCount = expoCast.length;
var rowStep = (1815 - 6) / (rowCount - 1);
var allDatasets = buildDatasets({ expo: expoCast, nam: podNam, lo: podNam, hi: podNamHi, aed: maxAed, trad: podTrad, lineWidth: 2.2 });

function drawArrowHead(c, x, tipY, baseY) {
    c.beginPath();
    c.moveTo(x, tipY);
    c.lineTo(x - 6.8, baseY);
    c.lineTo(x + 6.8, baseY);
    c.closePath();
    c.fill();
}

function rotatedText(c, text, x, y) {
    c.save();
    c.translate(x, y);
    c.rotate(-Math.PI / 2);
    c.textAlign = 'center';
    c.textBaseline = 'middle';
    c.fillText(text, 0, 0);
    c.restore();
}

new Chart(document.getElementById('chartAll'), {
    type: 'scatter',
    data: { datasets: allDatasets },
    options: {
        responsive: false,
        layout: { padding: { top: 4, right: 0, left: 0, bottom: 11.8 } },
        plugins: {
            tooltip: { enabled: false },
            legend: {
                position: 'bottom',
                labels: {
                    usePointStyle: true, boxWidth: 13.6, boxHeight: 5.8, padding: 12,
                    color: '#333', font: { size: 16.4 },
                    filter: function (item) { return item.text !== ''; },
                    sort: function (a, b) { return legendLabels.indexOf(a.text) - legendLabels.indexOf(b.text); }
                }
            }
        },
        scales: {
            x: xScale({ size: 22, weight: 'bold' }, 25.9, '#000', 2.6, 81.9, 45.2, 17, 2),
            y: {
                type: 'linear', reverse: true,
                min: -2 / rowStep, max: rowCount - 1 + 2 / rowStep,
                afterFit: function (scale) { scale.width = 36.2; },
                ticks: { display: false },
                grid: { display: false },
                border: { color: '#000', width: 2.6 },
                title: { display: true, text: 'Chemical', color: '#000', padding: 1.5, font: { size: 22, weight: 'bold' } }
            }
        }
    },
    plugins: [{
        id: 'podBoxes',
        afterDatasetsDraw: function (chart) {
            var c = chart.ctx, a = chart.chartArea;
            var xs = chart.scales.x, ys = chart.scales.y;
            var x45 = xs.getPixelForValue(4.5);
            c.save();
            c.strokeStyle = '#000';
            c.lineWidth = 1.6;
            c.beginPath();
            c.moveTo(x45, 30);
            c.lineTo(x45, 1590);
            c.stroke();
            highlightRows.forEach(function (r) {
                var y0 = ys.getPixelForValue(r[0]), y1 = ys.getPixelForValue(r[1]);
                c.fillStyle = 'rgba(255,0,0,0.115)';
                c.fillRect(a.left, y0, x45 - a.left, y1 - y0);
                c.strokeStyle = '#f00';
                c.lineWidth = 3.6;
                c.beginPath();
                c.moveTo(a.left, y0);
                c.lineTo(x45, y0);
                c.moveTo(a.left, y1);
                c.lineTo(x45, y1);
                c.stroke();
                c.lineWidth = 2.4;
                c.beginPath();
                c.moveTo(x45, y0);
                c.lineTo(x45, y1);
                c.stroke();
            });
            c.fillStyle = '#000';
            drawArrowHead(c, x45, 5, 39);
            drawArrowHead(c, x45, 1620, 1587);
            drawArrowHead(c, x45, 1621, 1655);
            drawArrowHead(c, x45, 1815, 1781);
            c.font = "bold 16.4px 'Liberation Sans'";
            rotatedText(c, 'POD ratio > 0', 628, 813);
            rotatedText(c, 'POD ratio', 628, 1720);
            rotatedText(c, '< 0', 651, 1716);
            c.restore();
        }
    }]
});
</script>
</body>
</html>
